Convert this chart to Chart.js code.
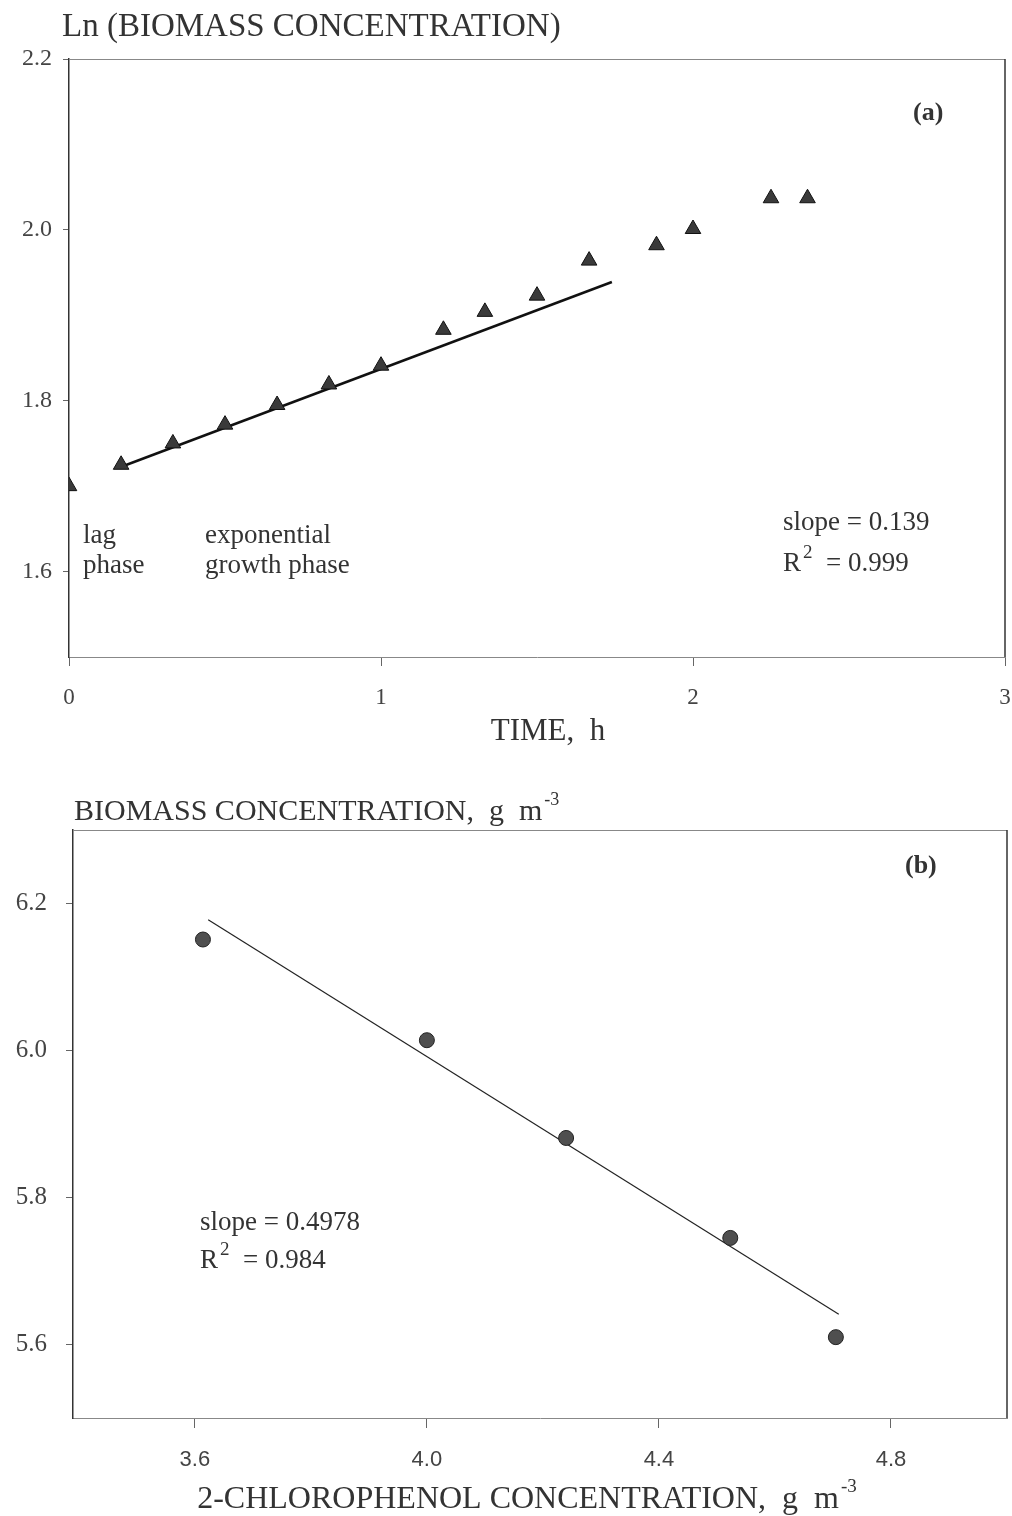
<!DOCTYPE html>
<html>
<head>
<meta charset="utf-8">
<script src="https://cdn.jsdelivr.net/npm/chart.js@4/dist/chart.umd.min.js"></script>
<style>
  html, body { margin: 0; padding: 0; background: #fff; }
  body { width: 1012px; height: 1516px; position: relative; overflow: hidden; }
  canvas { position: absolute; left: 0; }
  #c1 { top: 0; }
  #c2 { top: 760px; }
</style>
</head>
<body>
<canvas id="c1" width="1012" height="770"></canvas>
<canvas id="c2" width="1012" height="756"></canvas>
<script>
// ---- Panel (a) data ----
const timeH      = [0, 0.167, 0.333, 0.5, 0.667, 0.833, 1.0, 1.2, 1.333, 1.5, 1.667, 1.883, 2.0, 2.25, 2.367];
const lnBiomass  = [1.700, 1.725, 1.750, 1.772, 1.795, 1.819, 1.841, 1.883, 1.904, 1.923, 1.964, 1.982, 2.001, 2.037, 2.037];
const fitTime    = [0.17, 1.74];
const fitLn      = [1.723, 1.939];
const timeTicks  = [0, 1, 2, 3];
const lnTicks    = [1.6, 1.8, 2.0, 2.2];

// ---- Panel (b) data ----
const chlorophenol = [3.614, 4.0, 4.24, 4.523, 4.705];
const biomassConc  = [6.151, 6.014, 5.881, 5.745, 5.610];
const fitCp        = [3.623, 4.71];
const fitBio       = [6.178, 5.641];
const cpTicks      = [3.6, 4.0, 4.4, 4.8];
const bioTicks     = [5.6, 5.8, 6.0, 6.2];

const SERIF = '"Liberation Serif", "Times New Roman", serif';
const SANS  = '"Liberation Sans", Arial, sans-serif';
const INK = '#333';

function pts(xs, ys) { return xs.map((x, i) => ({ x: x, y: ys[i] })); }

function textWithSup(ctx, x, y, main, sup, size, supSize, align) {
  ctx.font = size + 'px ' + SERIF;
  const w1 = ctx.measureText(main).width;
  ctx.font = supSize + 'px ' + SERIF;
  const w2 = ctx.measureText(sup).width;
  let sx = x;
  if (align === 'center') sx = x - (w1 + w2) / 2;
  ctx.textAlign = 'left';
  ctx.font = size + 'px ' + SERIF;
  ctx.fillText(main, sx, y);
  ctx.font = supSize + 'px ' + SERIF;
  ctx.fillText(sup, sx + w1 + 2, y - size * 0.5);
}

function framePlugin(drawTexts) {
  return {
    id: 'frameText',
    afterDraw(chart) {
      const ctx = chart.ctx, a = chart.chartArea;
      ctx.save();
      ctx.strokeStyle = '#888';
      ctx.lineWidth = 1;
      ctx.beginPath();
      ctx.moveTo(a.left, a.top + 0.5); ctx.lineTo(a.right, a.top + 0.5);
      ctx.stroke();
      ctx.strokeStyle = '#333';
      ctx.lineWidth = 1.5;
      ctx.beginPath();
      ctx.moveTo(a.right, a.top); ctx.lineTo(a.right, a.bottom);
      ctx.stroke();
      ctx.fillStyle = INK;
      ctx.textBaseline = 'alphabetic';
      drawTexts(ctx, chart);
      ctx.restore();
    }
  };
}

function axisCommon(min, max, ticksArr, fitProp, fitVal, font, pad, tickLen, fmt, borderColor, borderWidth) {
  return {
    type: 'linear', min: min, max: max,
    afterBuildTicks: s => { s.ticks = ticksArr.map(v => ({ value: v })); },
    afterFit: s => {
      s[fitProp] = fitVal;
      s.paddingLeft = 0; s.paddingRight = 0; s.paddingTop = 0; s.paddingBottom = 0;
    },
    ticks: { font: font, color: '#444', padding: pad, callback: fmt },
    grid: { drawOnChartArea: false, drawTicks: true, tickLength: tickLen, color: '#666', lineWidth: 1 },
    border: { display: true, color: borderColor, width: borderWidth }
  };
}

// ---------------- Chart (a) ----------------
new Chart(document.getElementById('c1'), {
  type: 'scatter',
  data: {
    datasets: [
      { data: pts(timeH, lnBiomass), pointStyle: 'triangle', pointRadius: 9,
        backgroundColor: '#3a3a3a', borderColor: '#111', borderWidth: 1 },
      { data: pts(fitTime, fitLn), showLine: true, pointRadius: 0,
        borderColor: '#111', borderWidth: 2.5, fill: false }
    ]
  },
  options: {
    responsive: false, animation: false,
    layout: { autoPadding: false, padding: { top: 59, right: 7, left: 0, bottom: 0 } },
    plugins: { legend: { display: false }, tooltip: { enabled: false } },
    scales: {
      x: axisCommon(0, 3, timeTicks, 'height', 113, { family: SERIF, size: 23 }, 18, 9, v => String(v), '#888', 1),
      y: axisCommon(1.5, 2.2, lnTicks, 'width', 69, { family: SERIF, size: 24 }, 11, 6, v => Number(v).toFixed(1), '#333', 1.5)
    }
  },
  plugins: [framePlugin((ctx) => {
    ctx.textAlign = 'left';
    ctx.font = '33px ' + SERIF;
    ctx.fillText('Ln (BIOMASS CONCENTRATION)', 62, 36);
    ctx.font = 'bold 26px ' + SERIF;
    ctx.fillText('(a)', 913, 120);
    ctx.font = '27px ' + SERIF;
    ctx.fillText('lag', 83, 543);
    ctx.fillText('phase', 83, 573);
    ctx.fillText('exponential', 205, 543);
    ctx.fillText('growth phase', 205, 573);
    ctx.fillText('slope = 0.139', 783, 530);
    textWithSup(ctx, 783, 571, 'R', '2', 27, 19, 'left');
    ctx.font = '27px ' + SERIF;
    ctx.fillText('= 0.999', 826, 571);
    ctx.textAlign = 'center';
    ctx.font = '31px ' + SERIF;
    ctx.fillText('TIME,  h', 548, 740);
  })]
});

// ---------------- Chart (b) ----------------
new Chart(document.getElementById('c2'), {
  type: 'scatter',
  data: {
    datasets: [
      { data: pts(chlorophenol, biomassConc), pointStyle: 'circle', pointRadius: 7.5,
        backgroundColor: '#4f4f4f', borderColor: '#222', borderWidth: 1 },
      { data: pts(fitCp, fitBio), showLine: true, pointRadius: 0,
        borderColor: '#222', borderWidth: 1.2, fill: false }
    ]
  },
  options: {
    responsive: false, animation: false,
    layout: { autoPadding: false, padding: { top: 70, right: 5, left: 0, bottom: 0 } },
    plugins: { legend: { display: false }, tooltip: { enabled: false } },
    scales: {
      x: axisCommon(3.39, 5.0, cpTicks, 'height', 98, { family: SANS, size: 22 }, 19, 10, v => Number(v).toFixed(1), '#888', 1),
      y: axisCommon(5.5, 6.3, bioTicks, 'width', 73, { family: SERIF, size: 25 }, 19, 7, v => Number(v).toFixed(1), '#333', 1.5)
    }
  },
  plugins: [framePlugin((ctx) => {
    textWithSup(ctx, 74, 60, 'BIOMASS CONCENTRATION,  g  m', '-3', 30, 18, 'left');
    ctx.font = 'bold 26px ' + SERIF;
    ctx.textAlign = 'left';
    ctx.fillText('(b)', 905, 113);
    ctx.font = '27px ' + SERIF;
    ctx.fillText('slope = 0.4978', 200, 470);
    textWithSup(ctx, 200, 508, 'R', '2', 27, 19, 'left');
    ctx.font = '27px ' + SERIF;
    ctx.fillText('= 0.984', 243, 508);
    textWithSup(ctx, 526, 748, '2-CHLOROPHENOL CONCENTRATION,  g  m', '-3', 32, 19, 'center');
  })]
});
</script>
</body>
</html>
